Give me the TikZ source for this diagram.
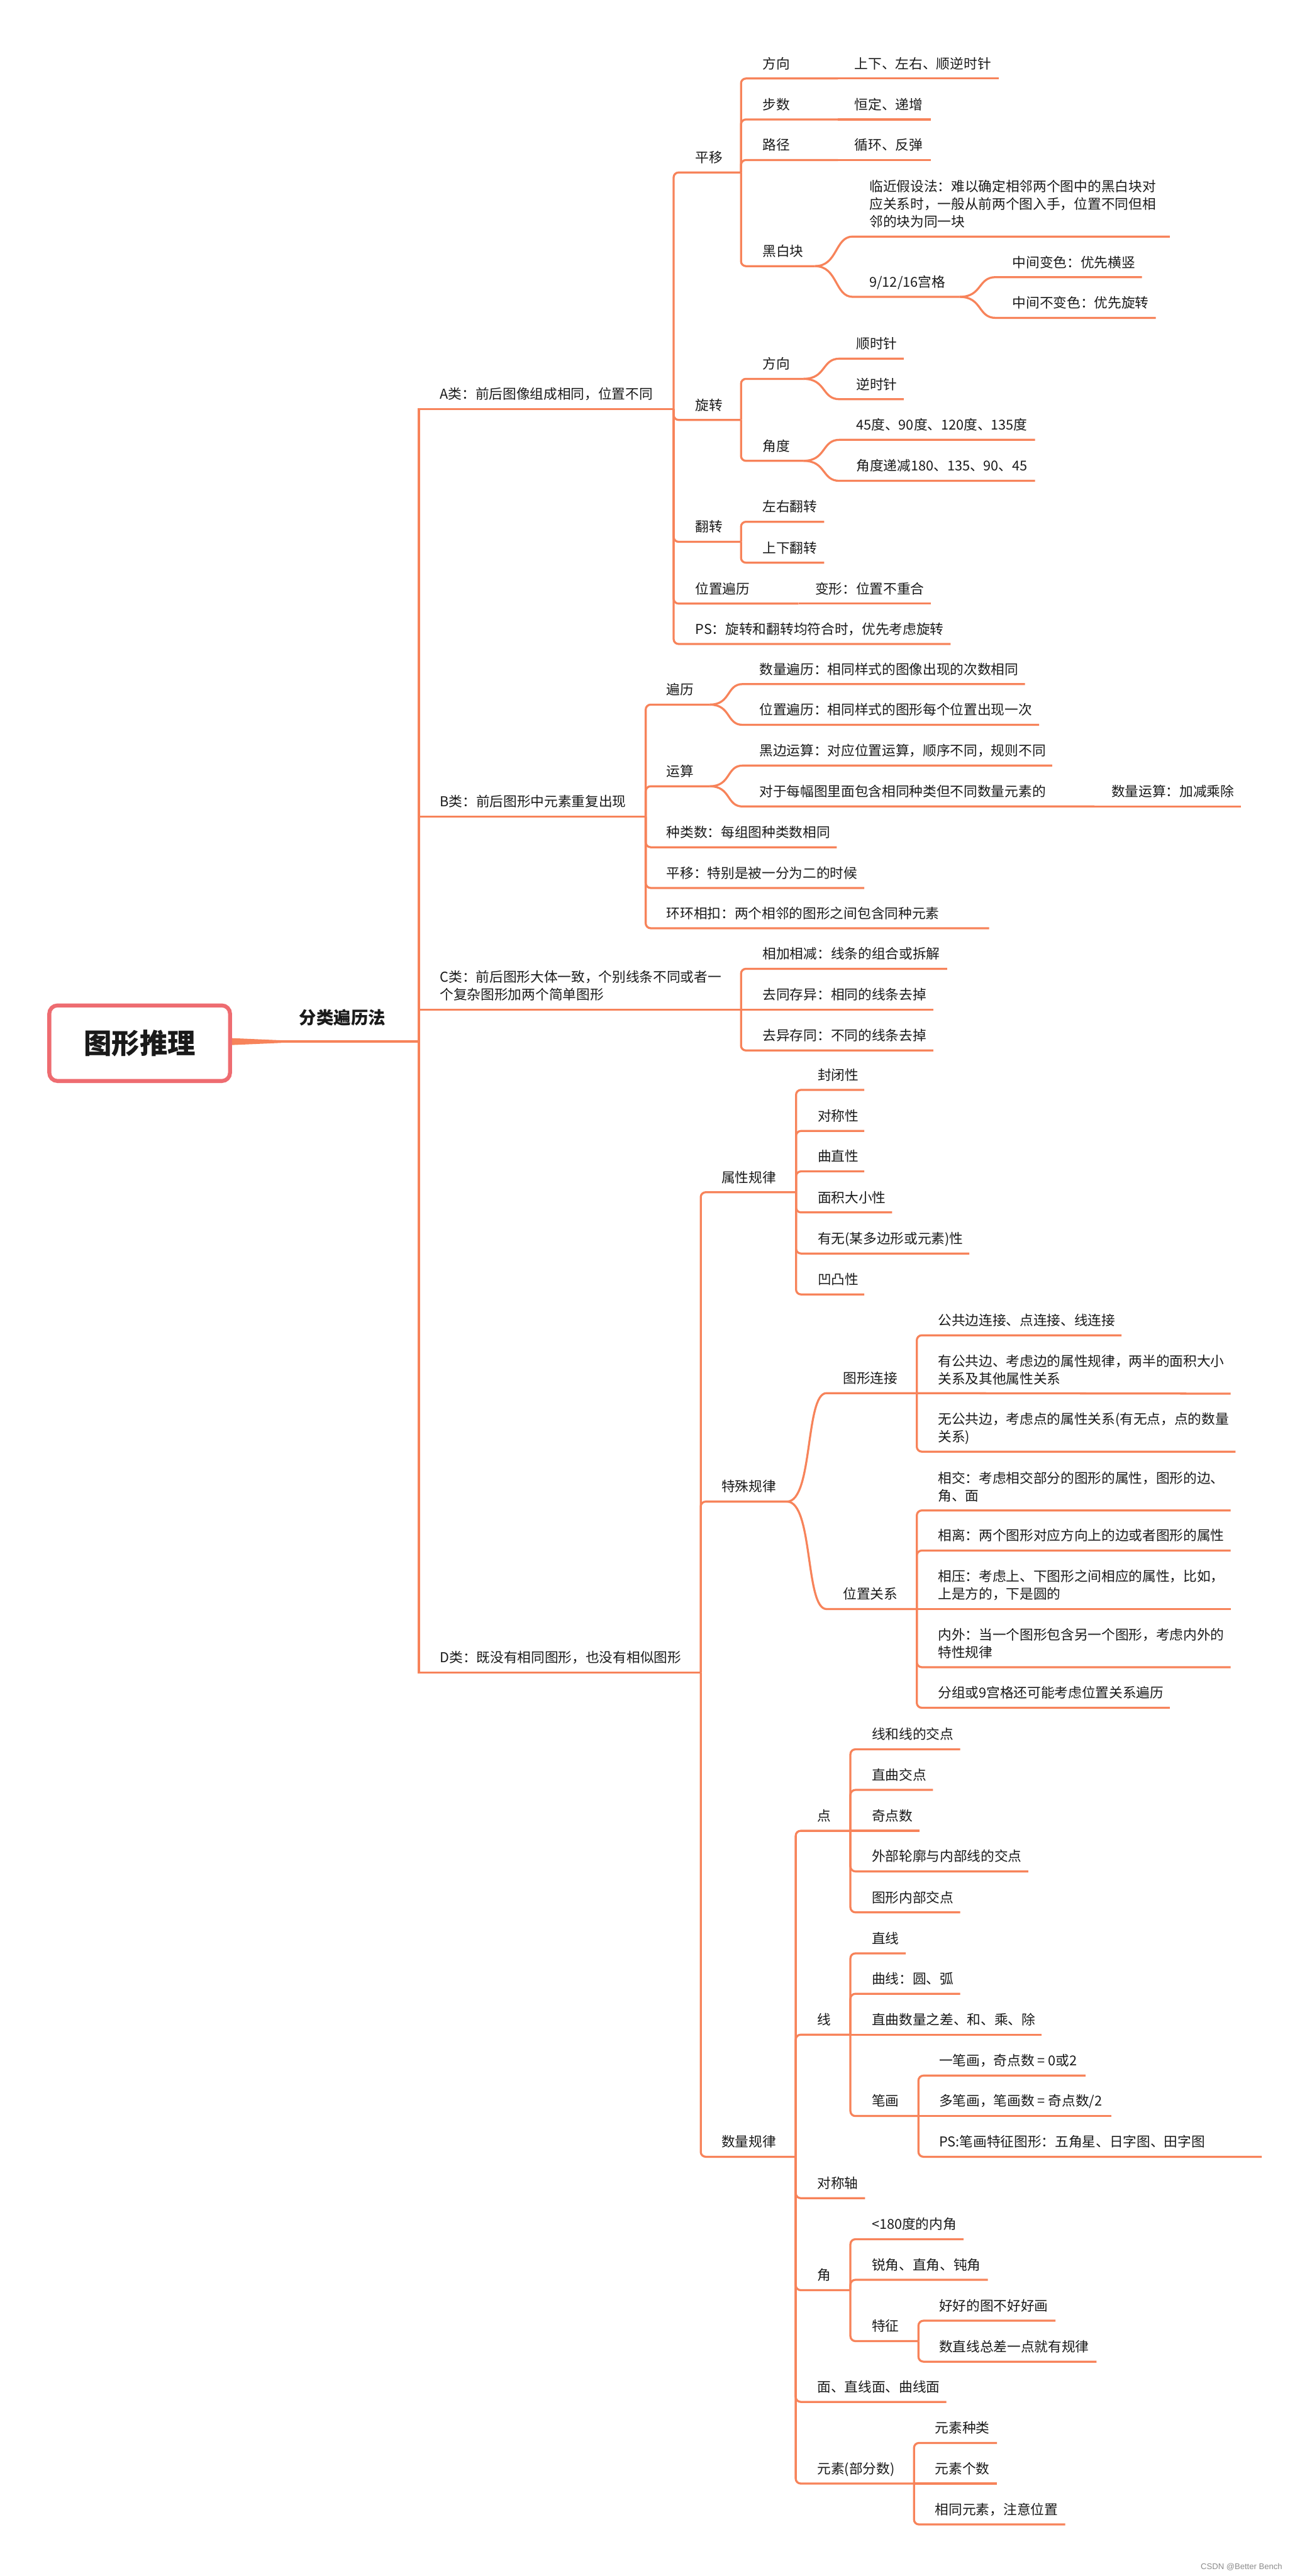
\documentclass[tikz,border=0pt]{standalone}
\usepackage{fontspec}
\setmainfont{Noto Sans CJK SC}
\newfontfamily\wmfont{Liberation Sans}
\definecolor{lc}{HTML}{F7835A}
\definecolor{rootc}{HTML}{EE6C71}
\definecolor{tc}{HTML}{1A1A1A}
\newcommand\mlines[1]{\begin{tabular}[b]{@{}l@{}}#1\end{tabular}}
\newcommand\tp[5]{\node[txt] (#1) at (#2,#3-6) {#5};\coordinate (#1R) at (#4,#3);\coordinate (#1L) at (#2-7,#3);}
\newcommand\elb[2]{\draw[ln] (#1R) |- (#2R);}
\newcommand\stl[2]{\draw[ln] (#1R) -- (#2R);}
\newcommand\scv[3]{\draw[ln] (#1R) .. controls +(#3,0) and +(-#3,0) .. (#2L) -- (#2R);}
\begin{document}
\begin{tikzpicture}[x=1pt,y=-1pt,
  txt/.style={inner sep=0pt,anchor=base west,text=tc,font=\fontsize{8.3}{10.7}\selectfont},
  ln/.style={draw=lc,line width=1.25pt,rounded corners=3pt},
  trunk/.style={draw=lc,line width=1.25pt},
  rootbox/.style={draw=rootc,line width=2.4pt,rounded corners=5pt,fill=white,minimum width=110pt,minimum height=46pt,inner sep=0pt,text=tc,font=\fontsize{17}{20}\selectfont\bfseries}]
\fill[white] (0,0) rectangle (785,1568);
\useasboundingbox (0,0) rectangle (785,1568);

% root
\coordinate (tA) at (0,631.9);
\coordinate (tB) at (0,636.1);
\coordinate (tM1) at (171,633.2);
\coordinate (tM2) at (171,634.8);
\node[rootbox] (root) at (85,635) {图形推理};
\node[inner sep=0pt,anchor=base west,text=tc,font=\fontsize{10.5}{12}\selectfont\bfseries] (cat) at (182,623.5) {分类遍历法};
\coordinate (catR) at (255,634);
\fill[lc] (root.east |- tA) -- (tM1) -- (tM2) -- (root.east |- tB) -- cycle;
\draw[trunk,line width=1.6pt] (root.east |- catR) -- (catR);

% level 1
\tp{A}{267.6}{249}{410}{A类：前后图像组成相同，位置不同}
\tp{B}{267.6}{497}{393}{B类：前后图形中元素重复出现}
\tp{C}{267.6}{614.5}{451}{\mlines{C类：前后图形大体一致，个别线条不同或者一\\个复杂图形加两个简单图形}}
\tp{D}{267.6}{1018}{426.5}{D类：既没有相同图形，也没有相似图形}
\draw[trunk] (catR) |- (AR);
\draw[trunk] (catR) |- (BR);
\draw[trunk] (catR) |- (CR);
\draw[trunk] (catR) |- (DR);

% A
\tp{py}{423}{105}{451}{平移}
\tp{xz}{423}{255.6}{451}{旋转}
\tp{fz}{423}{329.8}{451}{翻转}
\tp{wz}{423}{367.4}{486}{位置遍历}
\tp{ps}{423}{392}{578.6}{PS：旋转和翻转均符合时，优先考虑旋转}
\tp{bx}{496}{367.4}{566.7}{变形：位置不重合}
\elb{A}{py}\elb{A}{xz}\elb{A}{fz}\elb{A}{wz}\elb{A}{ps}
\stl{wz}{bx}

\tp{fx}{464}{47.8}{510}{方向}
\tp{fxa}{520}{47.8}{608}{上下、左右、顺逆时针}
\tp{bs}{464}{72.7}{510}{步数}
\tp{bsa}{520}{72.7}{566.7}{恒定、递增}
\tp{lj}{464}{97.4}{510}{路径}
\tp{lja}{520}{97.4}{566.7}{循环、反弹}
\tp{hb}{464}{162}{496}{黑白块}
\tp{lf}{529}{144}{712}{\mlines{临近假设法：难以确定相邻两个图中的黑白块对\\应关系时，一般从前两个图入手，位置不同但相\\邻的块为同一块}}
\tp{gg}{529}{180.7}{584}{9/12/16宫格}
\tp{zb}{616}{168.7}{695}{中间变色：优先横竖}
\tp{zn}{616}{193.5}{703.5}{中间不变色：优先旋转}
\elb{py}{fx}\elb{py}{bs}\elb{py}{lj}\elb{py}{hb}
\stl{fx}{fxa}\stl{bs}{bsa}\stl{lj}{lja}
\scv{hb}{lf}{14}\scv{hb}{gg}{14}
\scv{gg}{zb}{14}\scv{gg}{zn}{14}

\tp{xfx}{464}{230.6}{489}{方向}
\tp{ssz}{521}{218.3}{550}{顺时针}
\tp{nsz}{521}{243}{550}{逆时针}
\tp{jd}{464}{280.5}{489}{角度}
\tp{jda}{521}{267.7}{630}{45度、90度、120度、135度}
\tp{jdb}{521}{292.7}{630}{角度递减180、135、90、45}
\elb{xz}{xfx}\elb{xz}{jd}
\scv{xfx}{ssz}{14}\scv{xfx}{nsz}{14}
\scv{jd}{jda}{14}\scv{jd}{jdb}{14}

\tp{zy}{464}{317.6}{501.6}{左右翻转}
\tp{sxfz}{464}{342.5}{501.6}{上下翻转}
\elb{fz}{zy}\elb{fz}{sxfz}

% B
\tp{bl}{405.5}{428.9}{432}{遍历}
\tp{slbl}{462}{416.4}{623.8}{数量遍历：相同样式的图像出现的次数相同}
\tp{wzbl}{462}{441.2}{632.4}{位置遍历：相同样式的图形每个位置出现一次}
\tp{ys}{405.5}{478.6}{432}{运算}
\tp{hbys}{462}{466}{640.4}{黑边运算：对应位置运算，顺序不同，规则不同}
\tp{dy}{462}{490.9}{666}{对于每幅图里面包含相同种类但不同数量元素的}
\tp{slys}{676.3}{490.9}{755.3}{数量运算：加减乘除}
\tp{zls}{405.5}{515.7}{509.3}{种类数：每组图种类数相同}
\tp{bpy}{405.5}{540.5}{526}{平移：特别是被一分为二的时候}
\tp{hh}{405.5}{565}{602}{环环相扣：两个相邻的图形之间包含同种元素}
\elb{B}{bl}\elb{B}{ys}\elb{B}{zls}\elb{B}{bpy}\elb{B}{hh}
\scv{bl}{slbl}{13}\scv{bl}{wzbl}{13}
\scv{ys}{hbys}{13}\scv{ys}{dy}{13}
\stl{dy}{slys}

% C
\tp{jj}{464}{589.7}{576.5}{相加相减：线条的组合或拆解}
\tp{qt}{464}{614.5}{568}{去同存异：相同的线条去掉}
\tp{qy}{464}{639.4}{568}{去异存同：不同的线条去掉}
\elb{C}{jj}\stl{C}{qt}\elb{C}{qy}

% D
\tp{sxgl}{439}{725.7}{484.5}{属性规律}
\tp{fbx}{497.5}{663.4}{526}{封闭性}
\tp{dcx}{497.5}{688.4}{526}{对称性}
\tp{qzx}{497.5}{713}{526}{曲直性}
\tp{mjx}{497.5}{738}{543}{面积大小性}
\tp{ywx}{497.5}{763}{590}{有无(某多边形或元素)性}
\tp{atx}{497.5}{787.9}{526}{凹凸性}
\elb{sxgl}{fbx}\elb{sxgl}{dcx}\elb{sxgl}{qzx}\elb{sxgl}{mjx}\elb{sxgl}{ywx}\elb{sxgl}{atx}

\tp{tsgl}{439}{914}{479}{特殊规律}
\tp{txlj}{513}{848}{558}{图形连接}
\tp{gbl}{570.7}{812.8}{682.6}{公共边连接、点连接、线连接}
\tp{ygb}{570.7}{848.3}{749}{\mlines{有公共边、考虑边的属性规律，两半的面积大小\\关系及其他属性关系}}
\tp{wgb}{570.7}{883.6}{752}{\mlines{无公共边，考虑点的属性关系(有无点，点的数量\\关系)}}
\tp{wzgx}{513}{979.4}{558}{位置关系}
\tp{xj}{570.7}{919.4}{749}{\mlines{相交：考虑相交部分的图形的属性，图形的边、\\角、面}}
\tp{xl}{570.7}{943.8}{749}{相离：两个图形对应方向上的边或者图形的属性}
\tp{xy}{570.7}{979.4}{749}{\mlines{相压：考虑上、下图形之间相应的属性，比如，\\上是方的，下是圆的}}
\tp{nw}{570.7}{1014.8}{749}{\mlines{内外：当一个图形包含另一个图形，考虑内外的\\特性规律}}
\tp{fzjg}{570.7}{1039.5}{712}{分组或9宫格还可能考虑位置关系遍历}
\scv{tsgl}{txlj}{16}\scv{tsgl}{wzgx}{16}
\elb{txlj}{gbl}\stl{txlj}{ygb}\elb{txlj}{wgb}
\elb{wzgx}{xj}\elb{wzgx}{xl}\stl{wzgx}{xy}\elb{wzgx}{nw}\elb{wzgx}{fzjg}

\tp{slgl}{439}{1312.8}{484.3}{数量规律}
\tp{dian}{497.2}{1114.4}{517.6}{点}
\tp{xhx}{530.4}{1064.8}{584.4}{线和线的交点}
\tp{zqjd}{530.4}{1089.5}{567.8}{直曲交点}
\tp{jds}{530.4}{1114.4}{559.5}{奇点数}
\tp{wblk}{530.4}{1139.1}{625.8}{外部轮廓与内部线的交点}
\tp{txnb}{530.4}{1164}{584.4}{图形内部交点}
\tp{xian}{497.2}{1238.5}{517.6}{线}
\tp{zx}{530.4}{1189}{551.3}{直线}
\tp{qx}{530.4}{1213.6}{584.4}{曲线：圆、弧}
\tp{zqsl}{530.4}{1238.5}{634}{直曲数量之差、和、乘、除}
\tp{bh}{530.4}{1288}{559}{笔画}
\tp{ybh}{571.4}{1263.4}{660.7}{一笔画，奇点数 = 0或2}
\tp{dbh}{571.4}{1288}{676.3}{多笔画，笔画数 = 奇点数/2}
\tp{psbh}{571.4}{1312.8}{768}{PS:笔画特征图形：五角星、日字图、田字图}
\tp{dcz}{497.2}{1338}{526.5}{对称轴}
\tp{jiao}{497.2}{1394}{517.6}{角}
\tp{nj}{530.4}{1363}{586.4}{<180度的内角}
\tp{rj}{530.4}{1387.7}{601.2}{锐角、直角、钝角}
\tp{tz}{530.4}{1425}{559}{特征}
\tp{hhd}{571.4}{1412.6}{642.4}{好好的图不好好画}
\tp{szx}{571.4}{1437.5}{667.4}{数直线总差一点就有规律}
\tp{mian}{497.2}{1462}{576}{面、直线面、曲线面}
\tp{yss}{497.2}{1511.7}{556.3}{元素(部分数)}
\tp{yszl}{569}{1487}{606.8}{元素种类}
\tp{ysgs}{569}{1511.7}{606.8}{元素个数}
\tp{xtys}{569}{1536.6}{648.3}{相同元素，注意位置}
\elb{D}{sxgl}\elb{D}{tsgl}\elb{D}{slgl}
\elb{slgl}{dian}\elb{slgl}{xian}\elb{slgl}{dcz}\elb{slgl}{jiao}\elb{slgl}{mian}\elb{slgl}{yss}
\elb{dian}{xhx}\elb{dian}{zqjd}\stl{dian}{jds}\elb{dian}{wblk}\elb{dian}{txnb}
\elb{xian}{zx}\elb{xian}{qx}\stl{xian}{zqsl}\elb{xian}{bh}
\elb{bh}{ybh}\stl{bh}{dbh}\elb{bh}{psbh}
\elb{jiao}{nj}\elb{jiao}{rj}\elb{jiao}{tz}
\elb{tz}{hhd}\elb{tz}{szx}
\elb{yss}{yszl}\stl{yss}{ysgs}\elb{yss}{xtys}

% watermark
\node[inner sep=0pt,anchor=base east,text=black!45,font=\wmfont\fontsize{5}{6}\selectfont] (wm) at (780.6,1564) {CSDN @Better Bench};
\end{tikzpicture}
\end{document}
